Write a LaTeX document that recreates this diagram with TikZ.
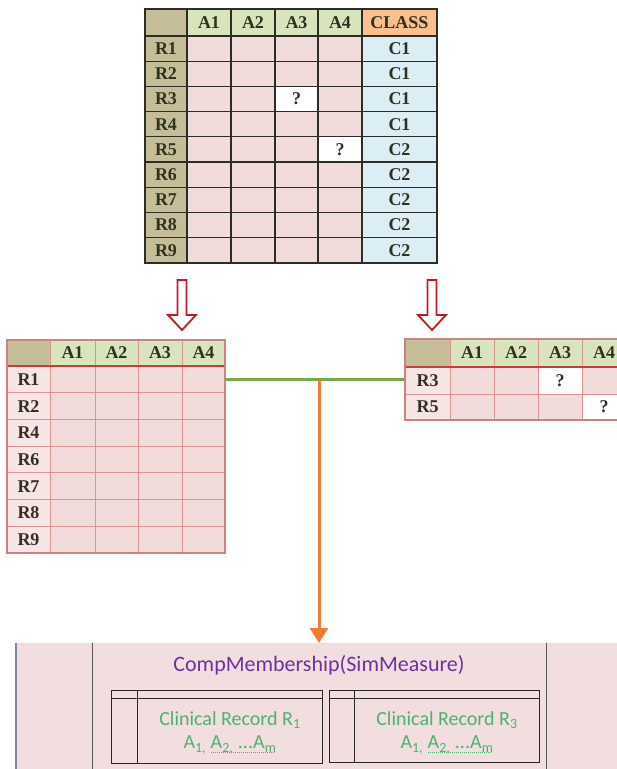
\documentclass[tikz,border=0pt]{standalone}
\usepackage{fontspec}
\setmainfont{Liberation Serif}
\newfontfamily\recfont{Carlito}
\usetikzlibrary{arrows.meta,calc}

% palette
\definecolor{tanhd}{RGB}{196,189,151}
\definecolor{greenhd}{RGB}{216,228,188}
\definecolor{orangehd}{RGB}{250,191,143}
\definecolor{pinkcell}{RGB}{242,220,219}
\definecolor{rowpink}{RGB}{246,229,228}
\definecolor{bluecell}{RGB}{218,238,243}
\definecolor{gridtop}{RGB}{45,45,40}
\definecolor{gridred}{RGB}{220,148,146}
\definecolor{headred}{RGB}{200,60,60}
\definecolor{tabtext}{RGB}{50,48,32}
\definecolor{arrowred}{RGB}{190,30,35}
\definecolor{joingreen}{RGB}{112,173,71}
\definecolor{flowor}{RGB}{237,125,49}
\definecolor{panelpink}{RGB}{242,222,222}
\definecolor{panelline}{RGB}{125,135,160}
\definecolor{titlepurple}{RGB}{112,48,160}
\definecolor{recgreen}{RGB}{76,178,110}

% dotted underline drawn with leaders under its argument
\newcommand{\dotunder}[1]{\setbox0\hbox{#1}\rlap{\raisebox{-3.5pt}{\hbox to \wd0{\leaders\hbox to 2pt{\hss\rule{1pt}{0.9pt}\hss}\hfill}}}\box0}

\tikzset{
  tabtxt/.style={font=\bfseries\fontsize{18}{20}\selectfont, text=tabtext, inner sep=0pt},
  topgrid/.style={draw=gridtop, line width=1.3pt},
  redgrid/.style={draw=gridred, line width=1pt},
  redhead/.style={draw=headred, line width=2pt},
  blockarrow/.style={draw=arrowred, fill=white, line width=1.8pt, line join=miter},
  greenline/.style={draw=joingreen, line width=3pt},
  orangearrow/.style={draw=flowor, line width=3pt, -{Triangle[length=15pt,width=18pt]}},
  recbox/.style={draw=black!85, line width=1pt, inner sep=0pt},
  rectxt/.style={font=\recfont\fontsize{20}{22}\selectfont, text=recgreen, inner sep=0pt},
}

\begin{document}
\begin{tikzpicture}[x=1pt,y=-1pt]
\useasboundingbox (0,0) rectangle (617,769);
\clip (0,0) rectangle (617,769);

% ---------- full data table ----------
\fill[tanhd] (145,9) rectangle (187,263);
\fill[greenhd] (187,9) rectangle (362,36);
\fill[orangehd] (362,9) rectangle (437,36);
\fill[pinkcell] (187,36) rectangle (362,263);
\fill[bluecell] (362,36) rectangle (437,263);
\fill[white] (275,86.4) rectangle (318,111.6);
\fill[white] (318,136.8) rectangle (362,162);
\foreach \x in {187,231,275,318,362} \draw[topgrid] (\x,9) -- (\x,263);
\foreach \i in {0,...,8} \draw[topgrid] (145,{36+25.2*\i}) -- (437,{36+25.2*\i});
\node[draw=gridtop, line width=2pt, minimum width=292pt, minimum height=254pt, inner sep=0pt] (toptab) at (291,136) {};

\foreach \c/\x in {A1/209,A2/253,A3/296.5,A4/340,CLASS/399.5}
  \node[tabtxt] (T-\c) at (\x,22.5) {\c};
\foreach \r/\cl [count=\i] in {R1/C1,R2/C1,R3/C1,R4/C1,R5/C2,R6/C2,R7/C2,R8/C2,R9/C2} {
  \node[tabtxt] (T-\r) at (166,{36+25.2*(\i-0.5)}) {\r};
  \node[tabtxt] (T-\r-cls) at (399.5,{36+25.2*(\i-0.5)}) {\cl};
}
\node[tabtxt] (T-q1) at (296.5,99) {?};
\node[tabtxt] (T-q2) at (340,149.4) {?};

% ---------- split arrows ----------
\draw[blockarrow] (177.5,280) -- (186.5,280) -- (186.5,315) -- (196,315) -- (182,330) -- (168,315) -- (177.5,315) -- cycle;
\draw[blockarrow] (427.5,280) -- (436.5,280) -- (436.5,315) -- (446,315) -- (432,330) -- (418,315) -- (427.5,315) -- cycle;

% ---------- complete records ----------
\fill[tanhd] (7,340) rectangle (50,366);
\fill[greenhd] (50,340) rectangle (225,366);
\fill[rowpink] (7,366) rectangle (50,553);
\fill[pinkcell] (50,366) rectangle (225,553);
\foreach \x in {50,95,138,182} \draw[redgrid] (\x,340) -- (\x,553);
\foreach \i in {1,...,6} \draw[redgrid] (7,{366+26.7*\i}) -- (225,{366+26.7*\i});
\draw[redhead] (7,366) -- (225,366);
\node[draw=gridred!90!black, line width=1.3pt, minimum width=218pt, minimum height=213pt, inner sep=0pt] (lefttab) at (116,446.5) {};
\foreach \c/\x in {A1/72.5,A2/116.5,A3/160,A4/203.5}
  \node[tabtxt] (L-\c) at (\x,353) {\c};
\foreach \r [count=\i] in {R1,R2,R4,R6,R7,R8,R9}
  \node[tabtxt] (L-\r) at (28.5,{366+26.7*(\i-0.5)}) {\r};

% ---------- incomplete records ----------
\fill[tanhd] (405,339) rectangle (450,367);
\fill[greenhd] (450,339) rectangle (630,367);
\fill[rowpink] (405,367) rectangle (450,420);
\fill[pinkcell] (450,367) rectangle (630,420);
\fill[white] (538,367) rectangle (582,394);
\fill[white] (582,394) rectangle (626,420);
\foreach \x in {450,494,538,582} \draw[redgrid] (\x,339) -- (\x,420);
\draw[redgrid] (405,394) -- (630,394);
\draw[redhead] (405,367) -- (630,367);
\node[draw=gridred!90!black, line width=1.3pt, minimum width=221pt, minimum height=81pt, inner sep=0pt] (righttab) at (515.5,379.5) {};
\foreach \c/\x in {A1/472,A2/516,A3/560,A4/604}
  \node[tabtxt] (M-\c) at (\x,353) {\c};
\node[tabtxt] (M-R3) at (427.5,380.5) {R3};
\node[tabtxt] (M-R5) at (427.5,407) {R5};
\node[tabtxt] (M-q1) at (560,380.5) {?};
\node[tabtxt] (M-q2) at (604,407) {?};

% ---------- membership panel ----------
\node[fill=panelpink, inner sep=0pt, minimum width=620pt, minimum height=140pt, anchor=north west] (panel) at (16,643) {};
\draw[panelline, line width=1.5pt] (panel.north west) -- (panel.south west);
\draw[black!65, line width=1pt] (92,643) -- (92,780);
\draw[black!65, line width=1pt] (546,643) -- (546,780);

% ---------- connectors ----------
\draw[greenline] (lefttab.east |- L-R1) -- (righttab.west |- L-R1);
\coordinate (join) at (319,379.6);
\draw[orangearrow] (join) -- (join |- panel.north);

\node[font=\recfont\fontsize{22}{24}\selectfont, text=titlepurple, inner sep=0pt] (title) at (319,665) {CompMembership(SimMeasure)};

\node[recbox, minimum width=211pt, minimum height=73pt] (rec1) at (216.5,726.5) {};
\draw[recbox] ($(rec1.north west)+(0,9)$) -- ($(rec1.north east)+(0,9)$);
\draw[recbox] ($(rec1.north west)+(27,0)$) -- ($(rec1.south west)+(27,0)$);
\node[recbox, minimum width=210pt, minimum height=72pt] (rec2) at (434,726) {};
\draw[recbox] ($(rec2.north west)+(0,9)$) -- ($(rec2.north east)+(0,9)$);
\draw[recbox] ($(rec2.north west)+(26,0)$) -- ($(rec2.south west)+(26,0)$);

\node[rectxt] (rec1a) at (230,720) {Clinical Record R\textsubscript{1}};
\node[rectxt] (rec1b) at (230,745) {A\textsubscript{1,} \dotunder{A\textsubscript{2,} ...A\textsubscript{m}}};
\node[rectxt] (rec2a) at (447,720) {Clinical Record R\textsubscript{3}};
\node[rectxt] (rec2b) at (447,745) {A\textsubscript{1,} \dotunder{A\textsubscript{2,} ...A\textsubscript{m}}};
\end{tikzpicture}
\end{document}
